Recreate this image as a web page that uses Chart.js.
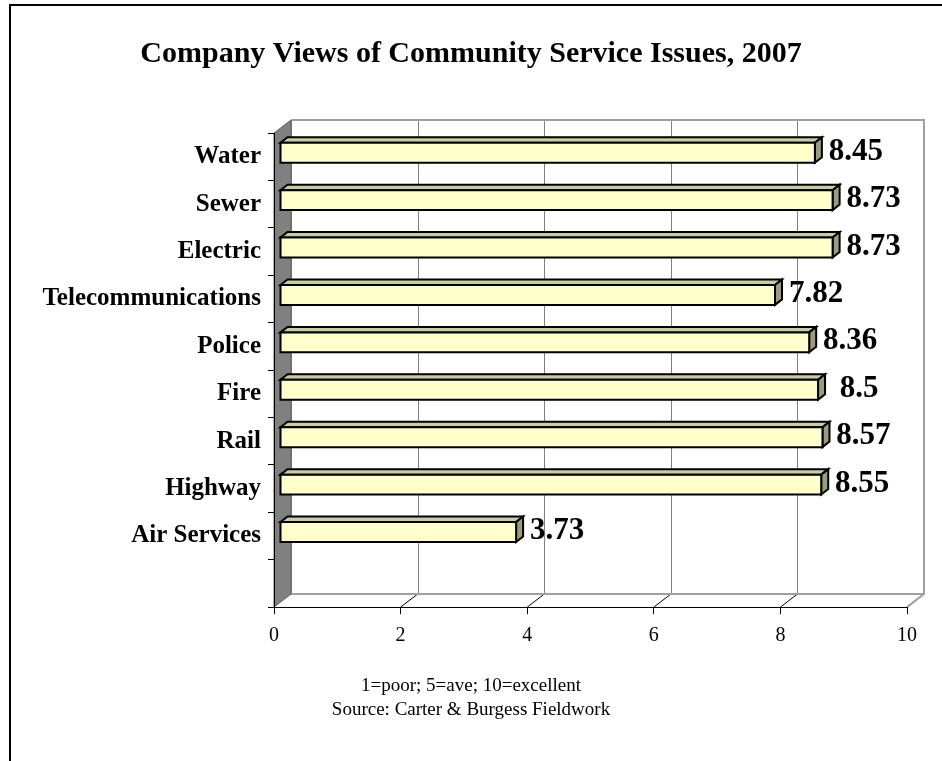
<!DOCTYPE html>
<html>
<head>
<meta charset="utf-8">
<title>Company Views of Community Service Issues, 2007</title>
<script src="https://cdn.jsdelivr.net/npm/chart.js@4.4.1/dist/chart.umd.min.js"></script>
<style>
  html, body { margin: 0; padding: 0; background: #fff; }
  #service-chart { display: block; }
</style>
</head>
<body>
<canvas id="service-chart" width="942" height="761"></canvas>
<script>
// data
const categories = ['Water', 'Sewer', 'Electric', 'Telecommunications', 'Police', 'Fire', 'Rail', 'Highway', 'Air Services', ''];
const ratings = [8.45, 8.73, 8.73, 7.82, 8.36, 8.5, 8.57, 8.55, 3.73, null];
const valueTicks = [0, 2, 4, 6, 8, 10];
const chartTitle = 'Company Views of Community Service Issues, 2007';
const noteLines = ['1=poor; 5=ave; 10=excellent', 'Source: Carter & Burgess Fieldwork'];

const SERIF = "'Liberation Serif', 'Times New Roman', serif";
// 3d offsets of the back wall and of the bar faces
const DEPTH = { x: 17, y: -13 };
const BAR_NEAR = { x: 6, y: -4 };
const BAR_FAR = { x: 13, y: -9.5 };

function line(ctx, x1, y1, x2, y2) {
  ctx.beginPath();
  ctx.moveTo(x1, y1);
  ctx.lineTo(x2, y2);
  ctx.stroke();
}

function polygon(ctx, points, fill) {
  ctx.beginPath();
  points.forEach(([px, py], i) => (i ? ctx.lineTo(px, py) : ctx.moveTo(px, py)));
  ctx.closePath();
  ctx.fillStyle = fill;
  ctx.fill();
  ctx.stroke();
}

// frame, back wall, floor and left wall, drawn before the axes
const wallsPlugin = {
  id: 'walls',
  beforeDraw(chart) {
    const { ctx, chartArea: area } = chart;
    const xScale = chart.scales.x;
    const backTop = area.top + DEPTH.y;
    const backBottom = area.bottom + DEPTH.y;
    const backLeft = area.left + DEPTH.x;
    const backRight = area.right + DEPTH.x;

    ctx.save();
    ctx.fillStyle = '#fff';
    ctx.fillRect(0, 0, chart.width, chart.height);

    ctx.strokeStyle = '#000';
    ctx.lineWidth = 2;
    ctx.beginPath();
    ctx.moveTo(10, chart.height);
    ctx.lineTo(10, 5);
    ctx.lineTo(chart.width, 5);
    ctx.stroke();

    // grid lines on the back wall
    ctx.lineWidth = 1;
    ctx.strokeStyle = '#808080';
    valueTicks.forEach((v) => {
      const px = Math.round(xScale.getPixelForValue(v) + DEPTH.x) + 0.5;
      line(ctx, px, backTop, px, backBottom);
    });

    // floor diagonals
    ctx.strokeStyle = '#000';
    valueTicks.slice(1, -1).forEach((v) => {
      const px = xScale.getPixelForValue(v);
      line(ctx, px, area.bottom, px + DEPTH.x, backBottom);
    });

    // wall outline
    ctx.strokeStyle = '#a0a0a0';
    ctx.lineWidth = 2;
    ctx.beginPath();
    ctx.moveTo(backLeft, backTop);
    ctx.lineTo(backRight, backTop);
    ctx.lineTo(backRight, backBottom);
    ctx.lineTo(area.right, area.bottom);
    ctx.moveTo(backRight, backBottom);
    ctx.lineTo(backLeft, backBottom);
    ctx.stroke();

    // left side wall
    ctx.lineWidth = 1;
    ctx.strokeStyle = '#606060';
    polygon(ctx, [
      [area.left, area.top],
      [backLeft, backTop],
      [backLeft, backBottom],
      [area.left, area.bottom],
    ], '#808080');
    ctx.restore();
  },
};

// 3d bars and value labels, placed from the bar elements
const bars3dPlugin = {
  id: 'bars3d',
  afterDatasetsDraw(chart) {
    const { ctx } = chart;
    const meta = chart.getDatasetMeta(0);
    const dx = BAR_FAR.x - BAR_NEAR.x;
    const dy = BAR_FAR.y - BAR_NEAR.y;
    ctx.save();
    ctx.lineWidth = 2;
    ctx.strokeStyle = '#000';
    ctx.lineJoin = 'miter';
    meta.data.forEach((bar, i) => {
      if (ratings[i] == null) return;
      const { x, y, base, height } = bar.getProps(['x', 'y', 'base', 'height'], true);
      const x0 = base + BAR_NEAR.x;
      const x1 = x + BAR_NEAR.x;
      const y0 = y - height / 2 + BAR_NEAR.y;
      const y1 = y + height / 2 + BAR_NEAR.y;
      polygon(ctx, [[x0, y0], [x0 + dx, y0 + dy], [x1 + dx, y0 + dy], [x1, y0]], '#cccca0');
      polygon(ctx, [[x1, y0], [x1 + dx, y0 + dy], [x1 + dx, y1 + dy], [x1, y1]], '#9c9c7c');
      polygon(ctx, [[x0, y0], [x1, y0], [x1, y1], [x0, y1]], '#ffffcc');

      // labels are centred a fixed distance past the bar end
      ctx.fillStyle = '#000';
      ctx.font = `bold 31px ${SERIF}`;
      ctx.textAlign = 'center';
      ctx.textBaseline = 'alphabetic';
      ctx.fillText(String(ratings[i]), x1 + dx + 34, y + 3);
    });
    ctx.restore();
  },
};

new Chart(document.getElementById('service-chart'), {
  type: 'bar',
  data: {
    labels: categories,
    datasets: [
      {
        label: 'Rating',
        data: ratings,
        backgroundColor: 'rgba(0,0,0,0)',
        borderWidth: 0,
        categoryPercentage: 1,
        barPercentage: 0.42,
      },
    ],
  },
  options: {
    indexAxis: 'y',
    responsive: false,
    animation: false,
    layout: { padding: { top: 0, right: 35, bottom: 0, left: 35 } },
    plugins: {
      legend: { display: false },
      tooltip: { enabled: false },
      title: {
        display: true,
        text: chartTitle,
        color: '#000',
        font: { family: SERIF, size: 30, weight: 'bold' },
        padding: { top: 36, bottom: 61 },
      },
      subtitle: {
        display: true,
        position: 'bottom',
        text: noteLines,
        color: '#000',
        font: { family: SERIF, size: 19, weight: 'normal', lineHeight: 1.26 },
        padding: { top: 17, bottom: 39 },
      },
    },
    scales: {
      x: {
        type: 'linear',
        min: 0,
        max: 10,
        afterBuildTicks: (scale) => {
          scale.ticks = valueTicks.map((value) => ({ value }));
        },
        afterFit: (scale) => {
          scale.height = 50;
        },
        grid: { drawOnChartArea: false, drawTicks: true, tickLength: 7, color: '#000' },
        border: { display: true, color: '#000', width: 1 },
        ticks: { color: '#000', padding: 10, font: { family: SERIF, size: 20 } },
      },
      y: {
        type: 'category',
        afterFit: (scale) => {
          scale.width = 239;
        },
        grid: { drawOnChartArea: false, drawTicks: true, tickLength: 6, color: '#000', offset: true },
        border: { display: true, color: '#000', width: 1 },
        ticks: { color: '#000', padding: 7, font: { family: SERIF, size: 25, weight: 'bold' } },
      },
    },
  },
  plugins: [wallsPlugin, bars3dPlugin],
});
</script>
</body>
</html>
